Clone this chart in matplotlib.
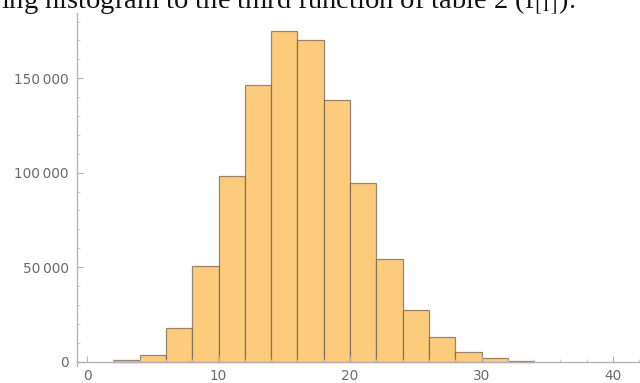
#! /usr/bin/env python3
"""
Histogram of counts per bin, Mathematica-like styling.
"""

import matplotlib
matplotlib.use("Agg")
import matplotlib.pyplot as plt
from matplotlib.ticker import FuncFormatter, MultipleLocator

# bin edges (width 2) and counts
bin_left = [2, 4, 6, 8, 10, 12, 14, 16, 18, 20, 22, 24, 26, 28, 30, 32]
counts = [
    800, 3500, 18000, 50500, 98000, 146500, 175000, 170000,
    138500, 94500, 54200, 27300, 13200, 5300, 1800, 600
]
bin_width = 2
x_ticks = [0, 10, 20, 30, 40]
y_ticks = [0, 50000, 100000, 150000]
caption = "ing histogram to the third function of table 2 (f$_{[1]}$)."


def thousands(v, pos):
    s = f"{int(v):,}"
    return s.replace(",", "\u2009")


def main():
    W, H, DPI = 640, 383, 100
    fig = plt.figure(figsize=(W / DPI, H / DPI), dpi=DPI)

    # axes box in pixels
    left_px, right_px = 77, 640
    top_px, bottom_px = 13, 366
    ax = fig.add_axes([
        left_px / W,
        (H - bottom_px) / H,
        (right_px - left_px) / W,
        (bottom_px - top_px) / H,
    ])

    ax.bar(
        bin_left,
        counts,
        width=bin_width,
        align="edge",
        color="#fccc7c",
        edgecolor=(0.38, 0.33, 0.27, 0.65),
        linewidth=0.9,
    )

    ax.set_xlim(-0.76, 42.05)
    ax.set_ylim(-2300, 184500)

    axis_col = "#b3b3b3"
    for side in ("top", "right"):
        ax.spines[side].set_visible(False)
    ax.spines["left"].set_color(axis_col)
    ax.spines["bottom"].set_color(axis_col)
    ax.spines["bottom"].set_position(("data", 0))
    ax.spines["left"].set_linewidth(1.0)
    ax.spines["bottom"].set_linewidth(1.0)

    ax.set_xticks(x_ticks)
    ax.set_yticks(y_ticks)
    ax.xaxis.set_minor_locator(MultipleLocator(2))
    ax.yaxis.set_minor_locator(MultipleLocator(10000))
    ax.yaxis.set_major_formatter(FuncFormatter(thousands))
    ax.tick_params(
        which="major", direction="in", length=4, width=0.8,
        color=axis_col, labelcolor="#6a6a6a", labelsize=9.8
    )
    ax.tick_params(
        which="minor", direction="in", length=2.2, width=0.6,
        color="#c8c8c8"
    )
    ax.tick_params(axis="x", pad=5)
    ax.tick_params(axis="y", pad=6)

    plt.rcParams["mathtext.fontset"] = "stix"
    fig.text(
        1 / W, (H - 8.5) / H, caption,
        family="Liberation Serif", fontsize=20.5, color="#111111",
        ha="left", va="baseline"
    )

    fig.savefig("out.png", dpi=DPI)


if __name__ == "__main__":
    main()
